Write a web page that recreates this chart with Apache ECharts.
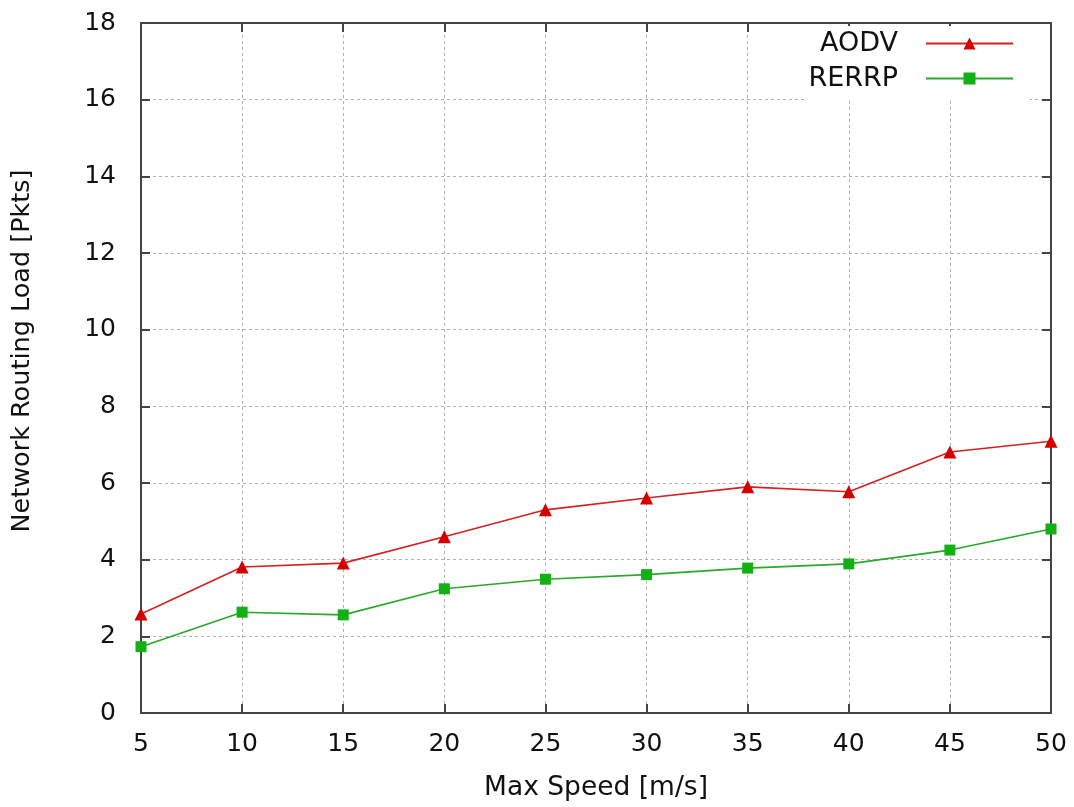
<!DOCTYPE html>
<html>
<head>
<meta charset="utf-8">
<title>Network Routing Load vs Max Speed</title>
<script src="https://cdn.jsdelivr.net/npm/echarts@6/dist/echarts.min.js"></script>
<style>
  html, body { margin: 0; padding: 0; background: #fff; }
  #chart { width: 1074px; height: 807px; }
</style>
</head>
<body>
<div id="chart"></div>
<script>
// Max speed (m/s) on the x axis
const speeds = [5, 10, 15, 20, 25, 30, 35, 40, 45, 50];
// Network routing load (packets) for each protocol
const aodv  = [2.58, 3.81, 3.91, 4.60, 5.30, 5.61, 5.90, 5.77, 6.81, 7.09];
const rerrp = [1.73, 2.63, 2.56, 3.24, 3.49, 3.61, 3.78, 3.89, 4.25, 4.80];

const FONT = 'DejaVu Sans';
const AXIS_COLOR = '#444';

const pairs = (ys) => speeds.map((x, i) => [x, ys[i]]);

const gridLine = { show: true, lineStyle: { color: '#b0b0b0', type: [3, 3], width: 1 } };

const chart = echarts.init(document.getElementById('chart'), null, { renderer: 'canvas' });
chart.setOption({
  backgroundColor: '#fff',
  animation: false,
  grid: { left: 141, right: 23, top: 23, bottom: 94 },
  legend: {
    orient: 'vertical',
    right: 44,
    top: 26,
    align: 'right',
    itemWidth: 87,
    itemHeight: 15,
    itemGap: 8,
    padding: [4, 16, 8, 2],
    backgroundColor: '#fff',
    textStyle: { fontFamily: FONT, fontSize: 27, color: '#111', padding: [0, 23, 0, 0] },
    data: ['AODV', 'RERRP']
  },
  xAxis: [{
    type: 'value',
    min: 5, max: 50, interval: 5,
    name: 'Max Speed [m/s]',
    nameLocation: 'middle',
    nameGap: 62,
    nameTextStyle: { fontFamily: FONT, fontSize: 26.5, color: '#111' },
    axisLine: { show: true, onZero: false, lineStyle: { color: AXIS_COLOR, width: 2 } },
    axisTick: { show: true, inside: true, length: 9, lineStyle: { color: AXIS_COLOR, width: 2 } },
    axisLabel: { fontFamily: FONT, fontSize: 25, color: '#111', margin: 19 },
    splitLine: gridLine
  }, {
    type: 'value',
    position: 'top',
    min: 5, max: 50, interval: 5,
    axisLine: { show: true, onZero: false, lineStyle: { color: AXIS_COLOR, width: 2 } },
    axisTick: { show: true, inside: true, length: 9, lineStyle: { color: AXIS_COLOR, width: 2 } },
    axisLabel: { show: false },
    splitLine: { show: false }
  }],
  yAxis: [{
    type: 'value',
    min: 0, max: 18, interval: 2,
    name: 'Network Routing Load [Pkts]',
    nameLocation: 'middle',
    nameGap: 106,
    nameTextStyle: { fontFamily: FONT, fontSize: 25.5, color: '#111', padding: [0, 0, 0, 34] },
    axisLine: { show: true, onZero: false, lineStyle: { color: AXIS_COLOR, width: 2 } },
    axisTick: { show: true, inside: true, length: 9, lineStyle: { color: AXIS_COLOR, width: 2 } },
    axisLabel: { fontFamily: FONT, fontSize: 25, color: '#111', margin: 25 },
    splitLine: gridLine
  }, {
    type: 'value',
    position: 'right',
    min: 0, max: 18, interval: 2,
    axisLine: { show: true, onZero: false, lineStyle: { color: AXIS_COLOR, width: 2 } },
    axisTick: { show: true, inside: true, length: 9, lineStyle: { color: AXIS_COLOR, width: 2 } },
    axisLabel: { show: false },
    splitLine: { show: false }
  }],
  series: [{
    name: 'AODV',
    type: 'line',
    data: pairs(aodv),
    symbol: 'triangle',
    symbolSize: 13,
    showAllSymbol: true,
    color: '#d40000',
    lineStyle: { color: '#d42020', width: 1.6 },
    itemStyle: { color: '#d40000' }
  }, {
    name: 'RERRP',
    type: 'line',
    data: pairs(rerrp),
    symbol: 'rect',
    symbolSize: 11,
    showAllSymbol: true,
    color: '#12b012',
    lineStyle: { color: '#2aa82a', width: 1.6 },
    itemStyle: { color: '#12b012' }
  }]
});
</script>
</body>
</html>
